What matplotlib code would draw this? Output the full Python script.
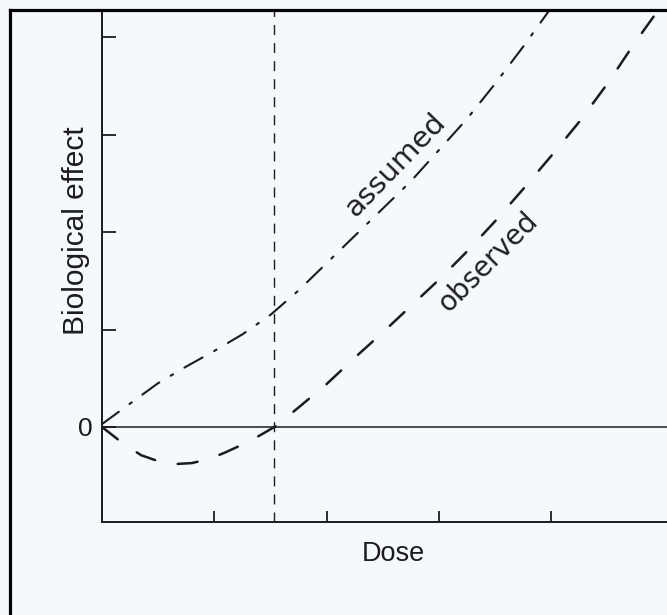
import matplotlib
matplotlib.use("Agg")
import matplotlib.pyplot as plt
from matplotlib.lines import Line2D

plt.rcParams['lines.scale_dashes'] = False
plt.rcParams['font.family'] = ['Liberation Sans', 'DejaVu Sans']

# --- data ---
assumed_x = [0.0, 0.25, 0.5, 0.75, 1.0, 1.25, 1.5, 1.75, 2.0, 2.25, 2.5, 2.75,
             3.0, 3.25, 3.5, 3.75, 4.0]
assumed_y = [0.03, 0.24, 0.45, 0.62, 0.78, 0.95, 1.15, 1.40, 1.68, 1.96, 2.24, 2.52,
             2.84, 3.16, 3.52, 3.90, 4.30]

observed_x = [0.0, 0.1, 0.2, 0.35, 0.5, 0.65, 0.8, 0.95, 1.1, 1.25, 1.4, 1.55, 1.75,
              2.0, 2.25, 2.5, 2.75, 3.0, 3.25, 3.5, 3.75, 4.0, 4.25, 4.5, 4.75, 5.0]
observed_y = [0.0, -0.09, -0.18, -0.29, -0.35, -0.38, -0.37, -0.33, -0.26, -0.18,
              -0.09, 0.01, 0.20, 0.44, 0.71, 0.97, 1.24, 1.51, 1.80, 2.11, 2.44, 2.78,
              3.13, 3.52, 3.95, 4.35]

threshold_x = 1.53
x_ticks = [1, 2, 3, 4]
y_ticks = [0, 1, 2, 3, 4]
y_tick_labels = ['0', '', '', '', '']
x_label = 'Dose'
y_label = 'Biological effect'
label_assumed = 'assumed'
label_observed = 'observed'

W, H = 667, 615
bg = '#f5f8fc'
ink = '#1c1c1c'

fig = plt.figure(figsize=(W / 100, H / 100), dpi=100, facecolor=bg)
ax = fig.add_axes([102 / W, (H - 522) / H, (W - 102) / W, (522 - 11) / H])
ax.set_facecolor(bg)

ax.set_xlim(0, 565 / 112.3)
ax.set_ylim(-(522 - 427) / 97.5, (427 - 11) / 97.5)

for s in ['top', 'right']:
    ax.spines[s].set_visible(False)
for s in ['left', 'bottom']:
    ax.spines[s].set_linewidth(1.4)
    ax.spines[s].set_color(ink)

ax.set_xticks(x_ticks)
ax.set_xticklabels([])
ax.set_yticks(y_ticks)
ax.set_yticklabels(y_tick_labels, fontsize=19)
ax.tick_params(axis='x', direction='in', length=8, width=1.3, colors=ink)
ax.tick_params(axis='y', direction='in', length=10, width=1.3, colors=ink, pad=7)

# zero line
ax.axhline(0, color=ink, lw=1.1)
# threshold vertical dashed line
ax.axvline(threshold_x, color=ink, lw=1.0, dashes=(7.2, 5.8))

ax.plot(assumed_x, assumed_y, color=ink, lw=1.5, dashes=(15, 9.5, 2, 9.5),
        solid_capstyle='round', dash_capstyle='round', solid_joinstyle='round')
ax.plot(observed_x, observed_y, color=ink, lw=1.8, dashes=(14.4, 16.6),
        dash_capstyle='round', solid_joinstyle='round')

ax.text(2.61, 2.69, label_assumed, rotation=46, ha='center', va='center',
        fontsize=21, color='#202020', family=['DejaVu Sans'],
        rotation_mode='anchor')
ax.text(3.44, 1.69, label_observed, rotation=45, ha='center', va='center',
        fontsize=20, color='#202020', family=['DejaVu Sans'],
        rotation_mode='anchor')

fig.text(393 / W, 1 - 554 / H, x_label, ha='center', va='center', fontsize=19.5, color=ink)
fig.text(76 / W, 1 - 231 / H, y_label, ha='center', va='center', rotation=90,
         fontsize=21.5, color=ink)

# scan frame (left and top borders)
fig.add_artist(Line2D([9.5 / W, 9.5 / W], [0, 1 - 9.5 / H], transform=fig.transFigure,
                      color='black', lw=2.3))
fig.add_artist(Line2D([9.5 / W, 1], [1 - 9.5 / H, 1 - 9.5 / H], transform=fig.transFigure,
                      color='black', lw=2.3))

fig.savefig('out.png', dpi=100, facecolor=bg)
